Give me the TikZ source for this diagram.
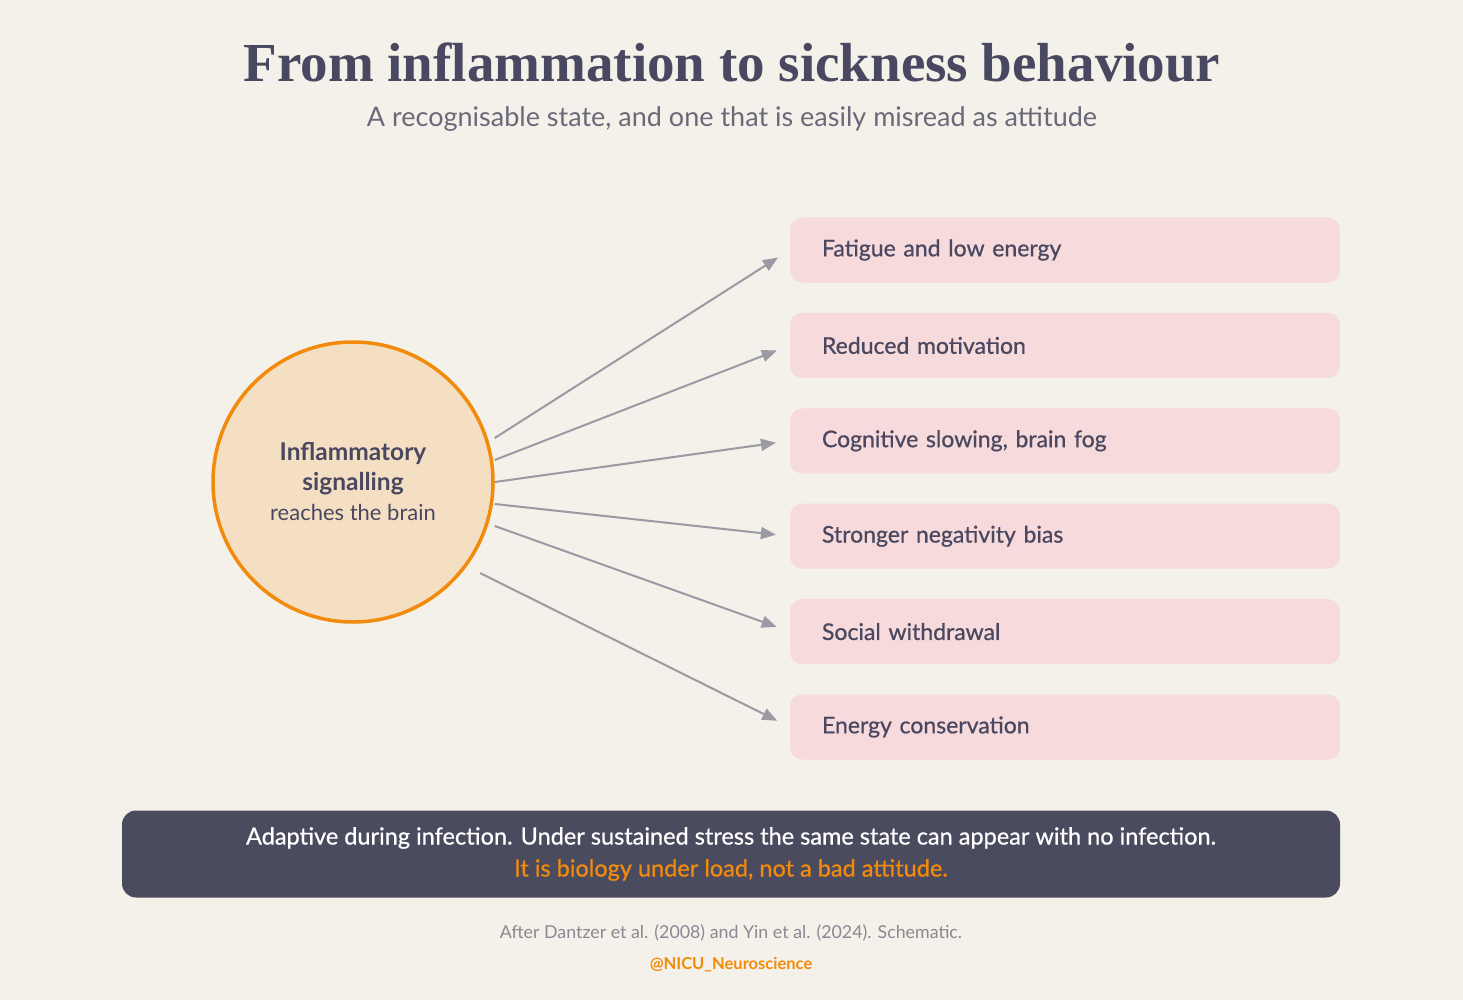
\documentclass[tikz,border=0pt]{standalone}
\usepackage{fontspec}
\setmainfont{Lato}
\newfontfamily\titlefont{Liberation Serif}
\newfontfamily\medfont{Lato}[FakeBold=0.7]
\usetikzlibrary{positioning, arrows.meta, calc}

\definecolor{bgcol}{HTML}{F4F1EA}
\definecolor{ink}{HTML}{4A4860}
\definecolor{subgray}{HTML}{6B6979}
\definecolor{peach}{HTML}{F4DFC3}
\definecolor{flame}{HTML}{F28A0C}
\definecolor{blush}{HTML}{F7DADB}
\definecolor{wire}{HTML}{9B99A3}
\definecolor{slate}{HTML}{4B4B5F}
\definecolor{notegray}{HTML}{8A8890}

\begin{document}
\begin{tikzpicture}[x=1pt, y=-1pt,
    sign/.style={rectangle, rounded corners=12pt, fill=blush, minimum width=550pt,
        minimum height=65pt, text width=486pt, inner xsep=32pt, align=left,
        text=ink, font=\fontsize{23}{27}\selectfont\medfont},
    link/.style={draw=wire, line width=2pt, -{Triangle[length=15pt,width=12pt]}, shorten >=14pt}]

    % background and margins
    \fill[bgcol] (0,0) rectangle (1463,1000);

    \node[anchor=base, text=ink, font=\fontsize{55}{62}\selectfont\titlefont\bfseries] (title) at (732,82) {From inflammation to sickness behaviour};
    \node[anchor=base, text=subgray, font=\fontsize{27}{32}\selectfont] (subtitle) at (732,127) {A recognisable state, and one that is easily misread as attitude};

    \node[circle, draw=flame, line width=3.5pt, fill=peach, minimum size=280pt, align=center, text=ink,
        font=\fontsize{24.5}{30}\selectfont] (src) at (353,482)
        {\bfseries Inflammatory\\ \bfseries signalling\\ \fontsize{22}{30}\selectfont reaches the brain};

    \node[sign] (b1) at (1065,250) {Fatigue and low energy};
    \node[sign, below=30pt of b1] (b2) {Reduced motivation};
    \node[sign, below=30pt of b2] (b3) {Cognitive slowing, brain fog};
    \node[sign, below=30pt of b3] (b4) {Stronger negativity bias};
    \node[sign, below=30pt of b4] (b5) {Social withdrawal};
    \node[sign, below=30pt of b5] (b6) {Energy conservation};

    \draw[link] ($(src.east)+(0,-44)$) -- (b1.west);
    \draw[link] ($(src.east)+(0,-22)$) -- (b2.west);
    \draw[link] (src.east) -- (b3.west);
    \draw[link] ($(src.east)+(0,22)$) -- (b4.west);
    \draw[link] ($(src.east)+(0,44)$) -- (b5.west);
    \draw[link] ($(src.center)+(127,91)$) -- (b6.west);

    \node[rectangle, rounded corners=14pt, fill=slate, minimum width=1218pt, minimum height=87pt, align=center,
        font=\fontsize{23.5}{32}\selectfont\medfont] (note) at (731,854)
        {\textcolor{white}{Adaptive during infection. Under sustained stress the same state can appear with no infection.}\\
         \textcolor{flame}{It is biology under load, not a bad attitude.}};

    \node[text=notegray, font=\fontsize{17.8}{22}\selectfont] (source) at (731,933) {After Dantzer et al. (2008) and Yin et al. (2024). Schematic.};
    \node[text=flame, font=\fontsize{16.5}{20}\selectfont\bfseries] (handle) at (731,965) {@NICU\_Neuroscience};
\end{tikzpicture}
\end{document}
